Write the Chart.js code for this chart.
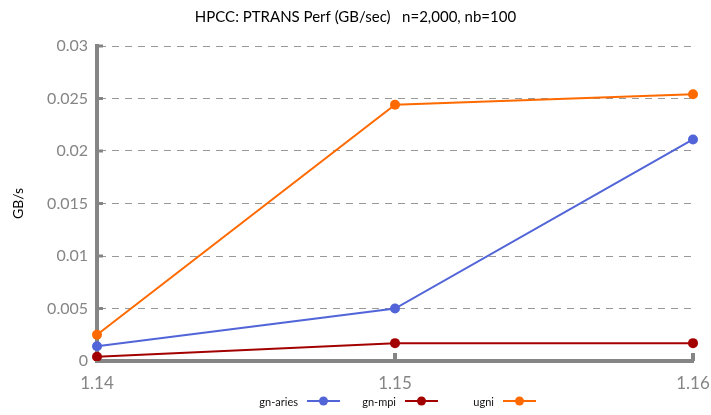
<!DOCTYPE html>
<html>
<head>
<meta charset="utf-8">
<script src="https://cdn.jsdelivr.net/npm/chart.js@4/dist/chart.umd.min.js"></script>
<style>
  body { margin: 0; background: #fff; }
  #wrap { width: 711px; height: 415px; }
</style>
</head>
<body>
<div id="wrap"><canvas id="perfChart"></canvas></div>
<script>
// Chart data
var versions = ["1.14", "1.15", "1.16"];
var gnAries = [0.0014, 0.0050, 0.0211];
var gnMpi = [0.0004, 0.0017, 0.0017];
var ugni = [0.0025, 0.0244, 0.0254];
var yTicks = [0, 0.005, 0.01, 0.015, 0.02, 0.025, 0.03];

var axisGrey = "#858585";
var fontName = "Lato, 'Open Sans', sans-serif";

function makeSeries(label, values, color) {
  return {
    label: label,
    data: values,
    borderColor: color,
    backgroundColor: color,
    borderWidth: 2,
    pointRadius: 5,
    pointHoverRadius: 5,
    pointBorderWidth: 0,
    tension: 0
  };
}

// small tick stubs drawn inside the plot area, next to the axis
var stubPlugin = {
  id: "stubs",
  afterDraw: function(chart) {
    var ctx = chart.ctx;
    var area = chart.chartArea;
    var yScale = chart.scales.y;
    var xScale = chart.scales.x;
    ctx.save();
    ctx.fillStyle = axisGrey;
    yScale.ticks.forEach(function(t, i) {
      if (i === 0) return;
      var py = yScale.getPixelForTick(i);
      ctx.fillRect(area.left, py - 1.5, 6, 3);
    });
    xScale.ticks.forEach(function(t, i) {
      if (i === 0) return;
      var px = xScale.getPixelForTick(i);
      ctx.fillRect(px - 2, area.bottom - 8, 4, 8);
    });
    ctx.restore();
  }
};

// legend: label text followed by a line sample with a dot
var legendPlugin = {
  id: "bottomLegend",
  afterDraw: function(chart) {
    var ctx = chart.ctx;
    var area = chart.chartArea;
    var mid = (area.left + area.right) / 2;
    var y = 401;
    ctx.save();
    ctx.font = "11px " + fontName;
    ctx.textAlign = "right";
    ctx.textBaseline = "middle";
    chart.data.datasets.forEach(function(ds, i) {
      var lineStart = mid - 88 + i * 98;
      ctx.fillStyle = "#111";
      ctx.fillText(ds.label, lineStart - 9, y + 1);
      ctx.strokeStyle = ds.borderColor;
      ctx.lineWidth = 2;
      ctx.beginPath();
      ctx.moveTo(lineStart, y);
      ctx.lineTo(lineStart + 33, y);
      ctx.stroke();
      ctx.fillStyle = ds.borderColor;
      ctx.beginPath();
      ctx.arc(lineStart + 16.5, y, 4.5, 0, Math.PI * 2);
      ctx.fill();
    });
    ctx.restore();
  }
};

var ctx = document.getElementById("perfChart").getContext("2d");
var perfChart = new Chart(ctx, {
  type: "line",
  data: {
    labels: versions,
    datasets: [
      makeSeries("gn-aries", gnAries, "#5265d8"),
      makeSeries("gn-mpi", gnMpi, "#a30000"),
      makeSeries("ugni", ugni, "#ff6a00")
    ]
  },
  options: {
    responsive: true,
    maintainAspectRatio: false,
    animation: false,
    layout: { padding: { left: 0, right: 0, top: 0, bottom: 0 } },
    plugins: {
      legend: { display: false },
      tooltip: { enabled: false },
      title: {
        display: true,
        text: "HPCC: PTRANS Perf (GB/sec)   n=2,000, nb=100",
        color: "#000",
        font: { family: fontName, size: 15, weight: "normal" },
        padding: { top: 8, bottom: 20 }
      }
    },
    scales: {
      x: {
        offset: false,
        grid: { display: false, drawTicks: false },
        border: { display: true, width: 4, color: axisGrey },
        ticks: {
          color: axisGrey,
          padding: 12,
          font: { family: fontName, size: 17 }
        },
        afterFit: function(scale) {
          scale.height = 54;
          scale.paddingRight = 18;
        }
      },
      y: {
        min: 0,
        max: 0.03,
        afterBuildTicks: function(scale) {
          scale.ticks = yTicks.map(function(v) { return { value: v }; });
        },
        grid: {
          color: function(c) { return c.index === 0 ? "rgba(0,0,0,0)" : "#999999"; },
          lineWidth: 1,
          drawTicks: false
        },
        border: { display: true, width: 4, color: axisGrey, dash: [7, 6] },
        ticks: {
          color: axisGrey,
          padding: 9,
          font: { family: fontName, size: 16 },
          callback: function(v) { return String(v); }
        },
        title: {
          display: true,
          text: "GB/s",
          color: "#000",
          font: { family: fontName, size: 14 },
          padding: { top: 10, bottom: 0 }
        },
        afterFit: function(scale) { scale.width = 97; }
      }
    }
  },
  plugins: [stubPlugin, legendPlugin]
});
</script>
</body>
</html>
